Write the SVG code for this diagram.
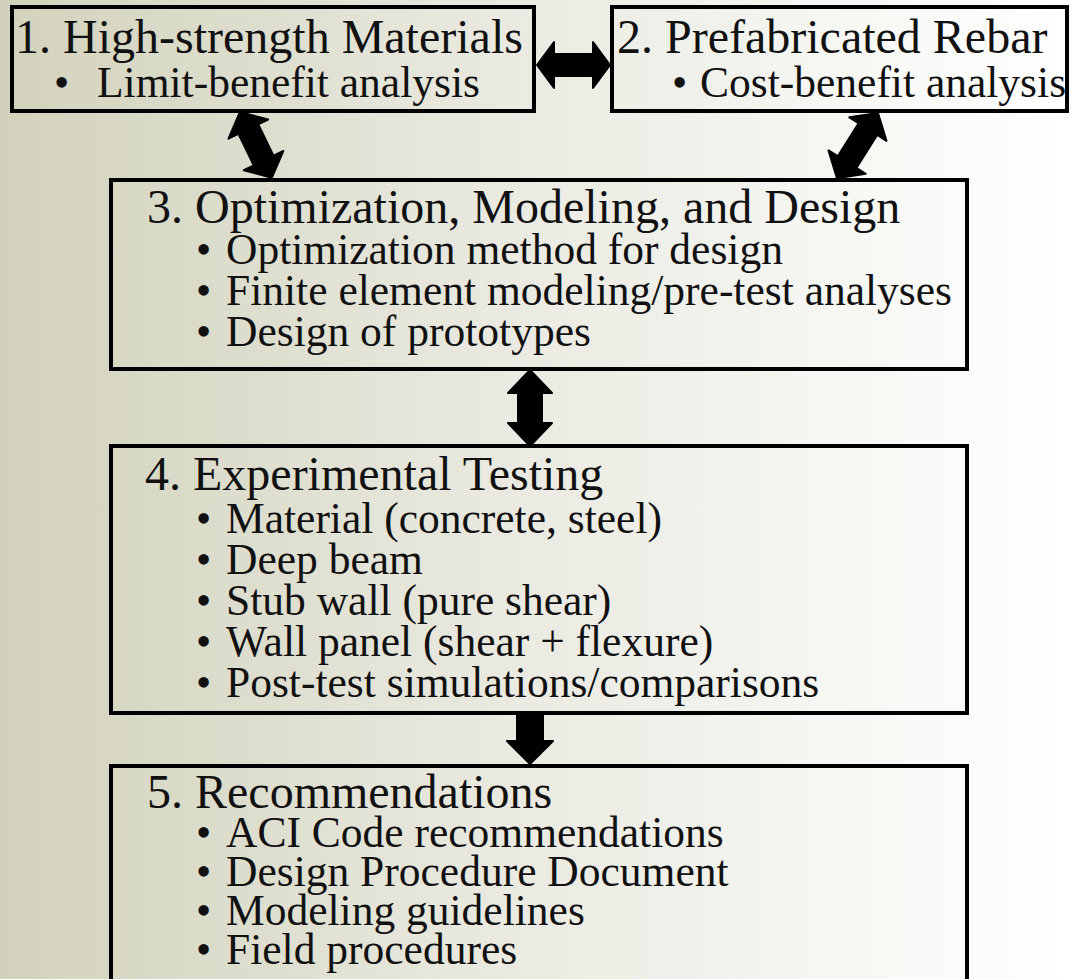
<svg xmlns="http://www.w3.org/2000/svg" width="1070" height="979" viewBox="0 0 1070 979">
<defs>
<linearGradient id="bg" x1="0" y1="0" x2="1" y2="0">
<stop offset="0" stop-color="#d2d2bc"/>
<stop offset="0.5" stop-color="#ebebe3"/>
<stop offset="1" stop-color="#ffffff"/>
</linearGradient>
<style>
.box{fill:none;stroke:#000;stroke-width:4}
.t{font-family:"Liberation Serif","Times New Roman",serif;font-size:48px;fill:#111}
.b{font-family:"Liberation Serif","Times New Roman",serif;font-size:43.5px;fill:#111}
.arrow{fill:#000;stroke:#000;stroke-width:2;stroke-linejoin:round}
</style>
</defs>
<rect x="0" y="0" width="1070" height="979" fill="url(#bg)"/>
<g id="connectors">
<path class="arrow" transform="translate(537,65)" d="M0,0 L17,-23 L17,-11 L56,-11 L56,-23 L73,0 L56,23 L56,11 L17,11 L17,23 Z"/>
<path class="arrow" transform="translate(240,112) rotate(64.1)" d="M0,0 L19,-22 L19,-11 L54,-11 L54,-22 L73,0 L54,22 L54,11 L19,11 L19,22 Z"/>
<path class="arrow" transform="translate(878,113) rotate(122.2)" d="M0,0 L19,-22 L19,-11 L58,-11 L58,-22 L77,0 L58,22 L58,11 L19,11 L19,22 Z"/>
<path class="arrow" transform="translate(530,370) rotate(90)" d="M0,0 L23,-22 L23,-12 L53,-12 L53,-22 L76,0 L53,22 L53,12 L23,12 L23,22 Z"/>
<path class="arrow" transform="translate(530,713) rotate(90)" d="M0,-13 L28,-13 L28,-23 L51,0 L28,23 L28,13 L0,13 Z"/>
</g>
<g id="node1">
<rect class="box" x="12" y="7" width="522" height="104"/>
<text class="t" x="15" y="53">1. High-strength Materials</text>
<text class="b" y="97"><tspan x="54">•</tspan><tspan x="97">Limit-benefit analysis</tspan></text>
</g>
<g id="node2">
<rect class="box" x="612" y="7" width="455" height="104"/>
<text class="t" x="617" y="53">2. Prefabricated Rebar</text>
<text class="b" y="97"><tspan x="672">•</tspan><tspan x="700">Cost-benefit analysis</tspan></text>
</g>
<g id="node3">
<rect class="box" x="111" y="180" width="856" height="189"/>
<text class="t" x="147" y="223">3. Optimization, Modeling, and Design</text>
<text class="b" y="264"><tspan x="196">•</tspan><tspan x="226">Optimization method for design</tspan></text>
<text class="b" y="305"><tspan x="196">•</tspan><tspan x="226">Finite element modeling/pre-test analyses</tspan></text>
<text class="b" y="346"><tspan x="196">•</tspan><tspan x="226">Design of prototypes</tspan></text>
</g>
<g id="node4">
<rect class="box" x="111" y="446" width="856" height="267"/>
<text class="t" x="145" y="490">4. Experimental Testing</text>
<text class="b" y="533"><tspan x="196">•</tspan><tspan x="226">Material (concrete, steel)</tspan></text>
<text class="b" y="574"><tspan x="196">•</tspan><tspan x="226">Deep beam</tspan></text>
<text class="b" y="615"><tspan x="196">•</tspan><tspan x="226">Stub wall (pure shear)</tspan></text>
<text class="b" y="656"><tspan x="196">•</tspan><tspan x="226">Wall panel (shear + flexure)</tspan></text>
<text class="b" y="697"><tspan x="196">•</tspan><tspan x="226">Post-test simulations/comparisons</tspan></text>
</g>
<g id="node5">
<rect class="box" x="111" y="766" width="856" height="240"/>
<text class="t" x="147" y="808">5. Recommendations</text>
<text class="b" y="847"><tspan x="196">•</tspan><tspan x="226">ACI Code recommendations</tspan></text>
<text class="b" y="886"><tspan x="196">•</tspan><tspan x="226">Design Procedure Document</tspan></text>
<text class="b" y="925"><tspan x="196">•</tspan><tspan x="226">Modeling guidelines</tspan></text>
<text class="b" y="964"><tspan x="196">•</tspan><tspan x="226">Field procedures</tspan></text>
</g>
</svg>
